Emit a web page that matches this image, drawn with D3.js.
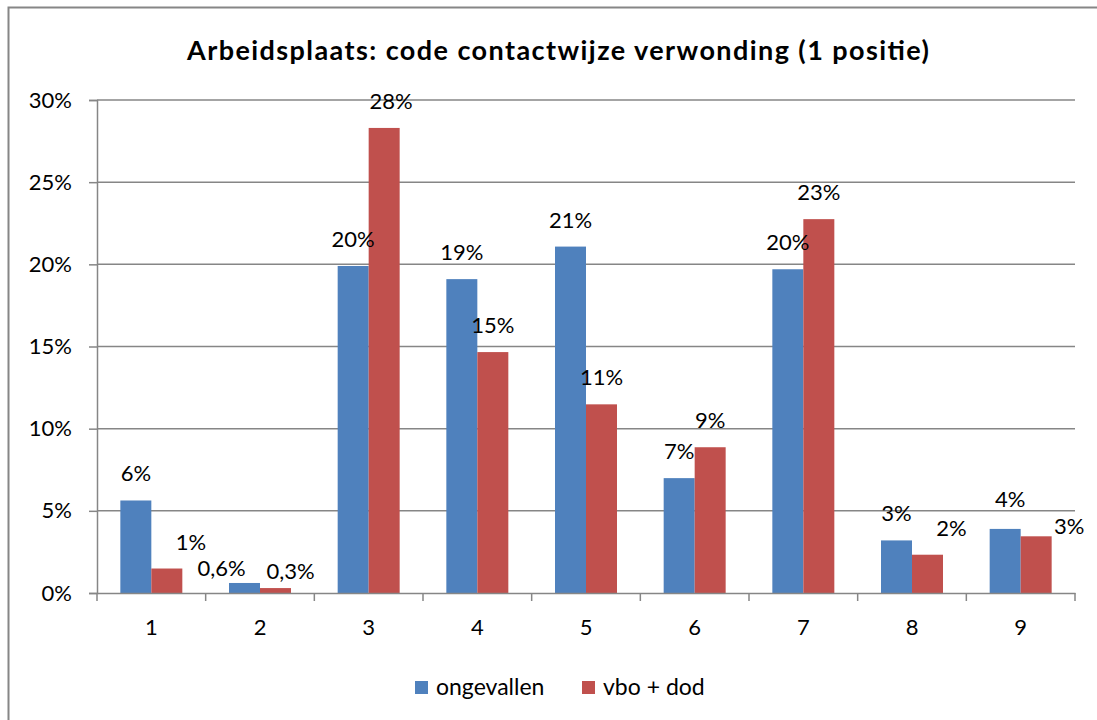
<!DOCTYPE html>
<head>
  <meta charset="utf-8">
  <script src="https://d3js.org/d3.v7.min.js"></script>
  <style>
    body { margin:0; background:#fff; }
    svg { display:block; font-family: Lato, "Open Sans", sans-serif; }
  </style>
</head>
<body>
  <svg width="1097" height="720"></svg>
  <script>
    var title = 'Arbeidsplaats: code contactwijze verwonding (1 positie)';
    var categories = ['1', '2', '3', '4', '5', '6', '7', '8', '9'];
    var seriesNames = ['ongevallen', 'vbo + dod'];
    var colors = ['#4F81BD', '#C0504D'];

    // percentages
    var ongevallen = [5.63, 0.61, 19.9, 19.1, 21.08, 6.99, 19.7, 3.2, 3.9];
    var vboDod = [1.49, 0.30, 28.3, 14.66, 11.48, 8.87, 22.75, 2.33, 3.45];
    var ongevallenLabels = ['6%', '0,6%', '20%', '19%', '21%', '7%', '20%', '3%', '4%'];
    var vboDodLabels = ['1%', '0,3%', '28%', '15%', '11%', '9%', '23%', '2%', '3%'];
    var yTicks = [0, 5, 10, 15, 20, 25, 30];

    // labels that were dragged away from their default spot [dx, dy]
    var labelNudge = {
      '1-1': [24, 0], '2-0': [-23, 12], '2-1': [15, 10], '3-1': [7, 0],
      '8-1': [24, 0], '9-0': [5, -3], '9-1': [33, 17]
    };

    var margin = {top: 100, bottom: 127, left: 97, right: 22};
    var width = 1097, height = 720;
    var svg = d3.select('svg');

    // chart border
    svg.append('rect')
      .attr('x', 8.5).attr('y', 7.5)
      .attr('width', 1300).attr('height', 900)
      .attr('fill', 'none').attr('stroke', '#868686').attr('stroke-width', 2);

    svg.append('text')
      .attr('x', 558).attr('y', 60)
      .attr('text-anchor', 'middle')
      .attr('font-size', 27).attr('font-weight', 'bold')
      .attr('textLength', 742).attr('lengthAdjust', 'spacing')
      .text(title);

    var x = d3.scaleBand()
      .domain(categories)
      .range([margin.left, width - margin.right]);

    var x1 = d3.scaleBand()
      .domain(d3.range(seriesNames.length))
      .range([0, x.bandwidth()])
      .paddingOuter(0.753);

    var y = d3.scaleLinear()
      .domain([0, 30])
      .range([height - margin.bottom, margin.top]);

    // gridlines
    svg.append('g')
      .selectAll('line')
      .data(yTicks.slice(1))
      .enter().append('line')
      .attr('x1', margin.left).attr('x2', width - margin.right)
      .attr('y1', d => y(d)).attr('y2', d => y(d))
      .attr('stroke', '#868686').attr('stroke-width', 1.5);

    var yAxis = d3.axisLeft(y)
      .tickValues(yTicks)
      .tickFormat(d => d + '%')
      .tickSizeOuter(0)
      .tickSize(8)
      .tickPadding(17);

    var gy = svg.append('g')
      .attr('transform', 'translate(' + margin.left + ',0)')
      .call(yAxis);
    gy.selectAll('text').attr('font-size', 22).attr('fill', '#000').attr('font-family', 'Lato');
    gy.selectAll('line, path').attr('stroke', '#868686').attr('stroke-width', 1.5);

    var data = categories.map((c, i) => ({cat: c, values: [ongevallen[i], vboDod[i]], labels: [ongevallenLabels[i], vboDodLabels[i]]}));

    var groups = svg.append('g').selectAll('g')
      .data(data)
      .enter().append('g')
      .attr('transform', d => 'translate(' + x(d.cat) + ',0)');

    groups.selectAll('rect')
      .data(d => d.values.map((v, s) => ({v: v, s: s})))
      .enter().append('rect')
      .attr('x', d => x1(d.s))
      .attr('width', x1.bandwidth())
      .attr('y', d => y(d.v))
      .attr('height', d => y(0) - y(d.v))
      .attr('fill', d => colors[d.s]);

    groups.selectAll('text.lbl')
      .data(d => d.values.map((v, s) => ({v: v, s: s, t: d.labels[s], cat: d.cat})))
      .enter().append('text')
      .attr('class', 'lbl')
      .attr('text-anchor', 'middle')
      .attr('font-size', 22)
      .attr('x', d => x1(d.s) + x1.bandwidth() / 2 + (labelNudge[d.cat + '-' + d.s] || [0, 0])[0])
      .attr('y', d => y(d.v) - 19 + (labelNudge[d.cat + '-' + d.s] || [0, 0])[1])
      .text(d => d.t);

    var xAxis = d3.axisBottom(x)
      .tickSize(0)
      .tickPadding(26);

    var gx = svg.append('g')
      .attr('transform', 'translate(0,' + y(0) + ')')
      .call(xAxis);
    gx.selectAll('text').attr('font-size', 22).attr('fill', '#000').attr('font-family', 'Lato');
    gx.select('path').attr('stroke', '#868686').attr('stroke-width', 1.5);

    // category boundary ticks
    gx.selectAll('line.sep')
      .data(categories.concat(['end']))
      .enter().append('line')
      .attr('class', 'sep')
      .attr('x1', (d, i) => i < categories.length ? x(d) : x(categories[i - 1]) + x.bandwidth())
      .attr('x2', (d, i) => i < categories.length ? x(d) : x(categories[i - 1]) + x.bandwidth())
      .attr('y1', 0).attr('y2', 8)
      .attr('stroke', '#868686').attr('stroke-width', 1.5);

    // legend
    var legendX = [415, 582];
    var legend = svg.append('g').selectAll('g')
      .data(seriesNames)
      .enter().append('g')
      .attr('transform', (d, i) => 'translate(' + legendX[i] + ',681)');
    legend.append('rect')
      .attr('width', 13).attr('height', 13)
      .attr('fill', (d, i) => colors[i]);
    legend.append('text')
      .attr('x', 21).attr('y', 14)
      .attr('font-size', 23)
      .text(d => d);
  </script>
</body>
